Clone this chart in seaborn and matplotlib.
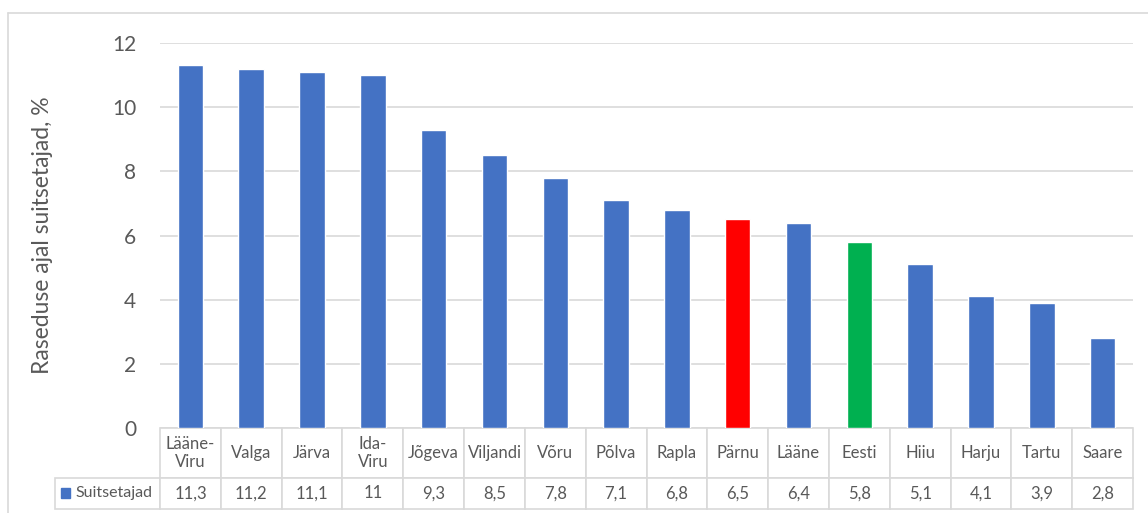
import matplotlib
matplotlib.use('Agg')
import pandas as pd
import seaborn as sns
import matplotlib.pyplot as plt
from matplotlib.lines import Line2D
from matplotlib.patches import Rectangle

# %% DATA

maakonnad = ['Lääne-Viru', 'Valga', 'Järva', 'Ida-Viru', 'Jõgeva', 'Viljandi', 'Võru', 'Põlva',
             'Rapla', 'Pärnu', 'Lääne', 'Eesti', 'Hiiu', 'Harju', 'Tartu', 'Saare']
tabeli_nimed = ['Lääne-\nViru', 'Valga', 'Järva', 'Ida-\nViru', 'Jõgeva', 'Viljandi', 'Võru', 'Põlva',
                'Rapla', 'Pärnu', 'Lääne', 'Eesti', 'Hiiu', 'Harju', 'Tartu', 'Saare']
suitsetajad = [11.3, 11.2, 11.1, 11, 9.3, 8.5, 7.8, 7.1, 6.8, 6.5, 6.4, 5.8, 5.1, 4.1, 3.9, 2.8]
esile = {'Pärnu': '#FF0000', 'Eesti': '#00B050'}

data = pd.DataFrame({'Maakond': maakonnad, 'Suitsetajad': suitsetajad})
palette = {m: esile.get(m, '#4472C4') for m in maakonnad}

# %% PLOT

sns.set_style('white')
plt.rcParams['font.family'] = ['Lato', 'DejaVu Sans']
grey = '#595959'
line_col = '#d9d9d9'

fig = plt.figure(figsize=(11.48, 5.13), dpi=100)
ax = fig.add_axes([160 / 1148, 1 - 428 / 513, 973 / 1148, 385 / 513])

sns.barplot(data=data, x='Maakond', y='Suitsetajad', hue='Maakond', palette=palette,
            order=maakonnad, width=0.42, legend=False, saturation=1, ax=ax)

ax.set_ylim(0, 12)
ax.set_xlim(-0.5, len(maakonnad) - 0.5)
ax.set_yticks(range(0, 13, 2))
ax.tick_params(axis='y', labelsize=15, labelcolor=grey, length=0, pad=17)
ax.set_xticks([])
ax.set_xlabel('')
ax.set_ylabel('Raseduse ajal suitsetajad, %', fontsize=16.5, color=grey)
ax.yaxis.set_label_coords(-0.11, 0.5)
ax.grid(axis='y', color=line_col, lw=1.2)
ax.set_axisbelow(True)
sns.despine(ax=ax, left=True, bottom=True)

# data table under the chart (first column holds the series name)
tekstid = [f'{v:g}'.replace('.', ',') for v in suitsetajad]
lbl_w = 105 / 973
tbl = ax.table(cellText=[['Suitsetajad'] + tekstid], colLabels=[''] + tabeli_nimed,
               cellLoc='center', bbox=[-lbl_w, -81 / 385, 1 + lbl_w, 81 / 385])
tbl.auto_set_font_size(False)
for (r, c), cell in tbl.get_celld().items():
    cell.set_edgecolor(line_col)
    cell.set_linewidth(1.2)
    cell.set_width(lbl_w if c == 0 else 1 / len(maakonnad))
    cell.set_height(50 if r == 0 else 31)
    cell.get_text().set_color(grey)
    cell.get_text().set_fontsize(12)
    if c == 0:
        if r == 0:
            cell.visible_edges = ''
        else:
            cell.get_text().set_horizontalalignment('right')
            cell.get_text().set_fontsize(11.5)
            cell.PAD = 0.07

# legend key in the table
ax.add_patch(Rectangle((-99 / 973, -70 / 385), 9 / 973, 10 / 385, transform=ax.transAxes,
                       color='#4472C4', clip_on=False))

# outer chart border
fig.add_artist(Line2D([8 / 1148, 1], [1 - 13 / 513] * 2, color=line_col, lw=1.2))
fig.add_artist(Line2D([8 / 1148] * 2, [0, 1 - 13 / 513], color=line_col, lw=1.2))

fig.savefig('out.png', dpi=100)
